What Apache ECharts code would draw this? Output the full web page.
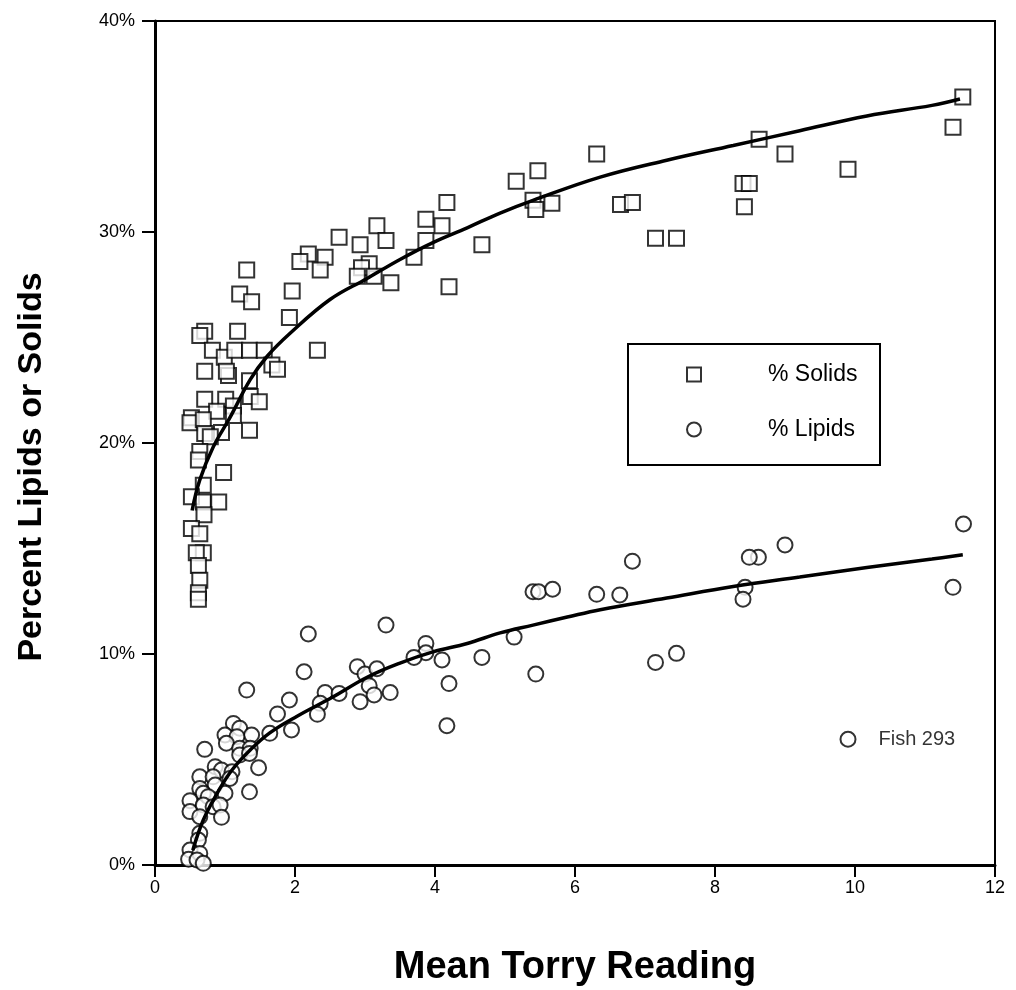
<!DOCTYPE html>
<html>
<head>
<meta charset="utf-8">
<title>Lipids and Solids vs Mean Torry Reading</title>
<script src="https://cdn.jsdelivr.net/npm/echarts@6/dist/echarts.min.js"></script>
<style>
  html, body { margin: 0; padding: 0; background: #fff; }
  #chart { width: 1016px; height: 990px; }
</style>
</head>
<body>
<div id="chart"></div>
<script>
// Mean Torry reading vs % solids, per fish sample
const solidsPoints = [
  [11.54, 36.4], [11.40, 34.96], [8.63, 34.4], [9.0, 33.7], [9.9, 32.97], [8.40, 32.3], [8.49, 32.3],
  [8.42, 31.2], [6.31, 33.7], [6.65, 31.3], [6.82, 31.4], [7.15, 29.7], [7.45, 29.7],
  [4.17, 31.4], [5.40, 31.5], [5.44, 31.07], [5.67, 31.36], [5.16, 32.4], [5.47, 32.9],
  [3.87, 30.6], [4.10, 30.3], [3.17, 30.3], [2.63, 29.75], [3.30, 29.6], [3.87, 29.6], [2.93, 29.4],
  [4.67, 29.4], [2.19, 28.96], [2.43, 28.8], [2.07, 28.6], [2.36, 28.2], [3.06, 28.5], [2.95, 28.3],
  [2.89, 27.9], [3.13, 27.9], [3.70, 28.8], [3.37, 27.6], [4.2, 27.4], [2.32, 24.4],
  [1.31, 28.2], [1.21, 27.06], [1.38, 26.7], [1.96, 27.2], [1.92, 25.95], [0.71, 25.3], [0.64, 25.1],
  [1.18, 25.3], [0.82, 24.4], [0.99, 24.06], [1.14, 24.4], [1.35, 24.4], [1.56, 24.4], [1.67, 23.7],
  [1.75, 23.5], [0.71, 23.4], [1.05, 23.2], [1.02, 23.4], [1.35, 22.95], [0.71, 22.07], [1.01, 22.07],
  [1.12, 21.75], [1.36, 22.2], [1.49, 21.96], [0.88, 21.5], [0.52, 21.2], [0.50, 20.96], [0.69, 21.1],
  [1.12, 21.3], [0.95, 20.5], [0.71, 20.45], [0.79, 20.3], [1.35, 20.6], [0.64, 19.6], [0.62, 19.2],
  [0.98, 18.6], [0.69, 18.0], [0.52, 17.45], [0.69, 17.2], [0.91, 17.2], [0.70, 16.6], [0.52, 15.95],
  [0.64, 15.7], [0.69, 14.8], [0.59, 14.8], [0.62, 14.2], [0.64, 13.5], [0.62, 12.9], [0.62, 12.6]
];

// Mean Torry reading vs % lipids, per fish sample
const lipidsPoints = [
  [11.55, 16.16], [11.40, 13.16], [9.0, 15.17], [8.62, 14.58], [8.49, 14.58], [8.43, 13.16], [8.40, 12.6],
  [6.82, 14.4], [6.64, 12.8], [6.31, 12.83], [7.45, 10.03], [7.15, 9.6], [9.9, 5.96],
  [5.40, 12.95], [5.48, 12.95], [5.68, 13.07], [5.44, 9.05], [5.13, 10.8], [4.67, 9.84], [3.30, 11.37],
  [2.19, 10.95], [2.13, 9.16], [3.87, 10.5], [3.87, 10.06], [3.70, 9.84], [4.10, 9.72], [4.2, 8.6],
  [4.17, 6.6], [2.89, 9.4], [3.0, 9.05], [3.17, 9.3], [3.06, 8.5], [3.13, 8.06], [3.36, 8.17],
  [2.93, 7.74], [2.43, 8.17], [2.63, 8.13], [2.36, 7.66], [2.32, 7.14],
  [1.31, 8.29], [1.92, 7.82], [1.75, 7.16], [1.95, 6.4], [1.12, 6.71], [1.21, 6.48], [1.64, 6.24],
  [1.0, 6.16], [1.38, 6.16], [1.17, 6.08], [1.02, 5.77], [0.71, 5.48], [1.21, 5.53], [1.36, 5.53],
  [1.21, 5.21], [1.35, 5.29], [1.48, 4.61], [0.86, 4.66], [0.95, 4.5], [1.10, 4.42], [0.64, 4.18],
  [0.83, 4.18], [1.07, 4.1], [0.86, 3.79], [1.0, 3.4], [1.35, 3.47], [0.64, 3.63], [0.69, 3.4],
  [0.5, 3.05], [0.5, 2.53], [0.76, 3.24], [0.69, 2.84], [0.83, 2.76], [0.93, 2.84], [0.95, 2.26],
  [0.64, 2.29], [0.64, 1.5], [0.62, 1.18], [0.5, 0.71], [0.48, 0.27], [0.64, 0.55], [0.6, 0.24],
  [0.69, 0.08]
];

// Fitted trend curves
const solidsFit = [
  [0.53, 16.8], [0.64, 18.25], [0.83, 19.8], [1.07, 21.2], [1.36, 23.0], [1.6, 24.1], [1.93, 25.2],
  [2.5, 26.8], [3.03, 27.8], [3.5, 28.7], [3.97, 29.5], [4.46, 30.2], [4.93, 30.9], [5.4, 31.5],
  [6.36, 32.6], [7.31, 33.4], [8.26, 34.1], [9.21, 34.8], [10.17, 35.5], [11.1, 36.0], [11.5, 36.3]
];
const lipidsFit = [
  [0.54, 0.7], [0.69, 2.13], [0.89, 3.41], [1.10, 4.5], [1.36, 5.45], [1.64, 6.26], [2.03, 7.05],
  [2.54, 7.96], [3.03, 8.9], [3.5, 9.57], [3.97, 10.1], [4.46, 10.5], [4.93, 11.0], [5.4, 11.37],
  [5.89, 11.75], [6.36, 12.1], [7.31, 12.65], [8.26, 13.2], [9.21, 13.65], [10.17, 14.1],
  [11.1, 14.5], [11.54, 14.7]
];

const seriesNames = ['% Solids', '% Lipids'];
const xTitle = 'Mean Torry Reading';
const yTitle = 'Percent Lipids or Solids';
const xTicks = { min: 0, max: 12, interval: 2 };
const yTicks = { min: 0, max: 40, interval: 10 };
const noteLabel = 'Fish 293';
const noteIndex = 12; // position of Fish 293 in lipidsPoints

const FONT = '"Liberation Sans", Arial, sans-serif';

const chart = echarts.init(document.getElementById('chart'), null, { renderer: 'canvas' });

const markerStyle = { color: '#fff', borderColor: '#000', borderWidth: 2 };

const lipidsData = lipidsPoints.map((p, i) => i === noteIndex
  ? {
      value: p,
      label: {
        show: true, position: 'right', distance: 22,
        formatter: noteLabel, color: '#000', fontFamily: FONT, fontSize: 20
      }
    }
  : p);

chart.setOption({
  animation: false,
  backgroundColor: '#fff',
  grid: {
    left: 155, right: 21, top: 21, bottom: 125,
    show: true, borderColor: '#000', borderWidth: 2, backgroundColor: 'transparent'
  },
  legend: {
    data: seriesNames,
    orient: 'vertical',
    left: 686, top: 363, padding: 0,
    itemWidth: 14, itemHeight: 14, itemGap: 32,
    textStyle: { color: '#000', fontFamily: FONT, fontSize: 23, padding: [0, 0, 0, 62] }
  },
  graphic: [
    {
      type: 'rect', left: 627, top: 343, z: 0,
      shape: { width: 252, height: 121 },
      style: { fill: '#fff', stroke: '#000', lineWidth: 2 }
    },
    {
      type: 'text', x: 575, y: 968, z: 10,
      style: {
        text: xTitle, fill: '#000', font: 'bold 38px ' + FONT,
        align: 'center', verticalAlign: 'middle'
      }
    },
    {
      type: 'text', x: 32, y: 467, rotation: Math.PI / 2, z: 10,
      style: {
        text: yTitle, fill: '#000', font: 'bold 34px ' + FONT,
        align: 'center', verticalAlign: 'middle'
      }
    }
  ],
  xAxis: {
    type: 'value', min: xTicks.min, max: xTicks.max, interval: xTicks.interval,
    axisLine: { show: true, lineStyle: { color: '#000', width: 3 } },
    axisTick: { show: true, inside: false, length: 12, lineStyle: { color: '#000', width: 2 } },
    axisLabel: { color: '#000', fontFamily: FONT, fontSize: 18, margin: 14 },
    splitLine: { show: false }
  },
  yAxis: {
    type: 'value', min: yTicks.min, max: yTicks.max, interval: yTicks.interval,
    axisLine: { show: true, lineStyle: { color: '#000', width: 3 } },
    axisTick: { show: true, inside: false, length: 13, lineStyle: { color: '#000', width: 2 } },
    axisLabel: { color: '#000', fontFamily: FONT, fontSize: 18, margin: 20, formatter: '{value}%' },
    splitLine: { show: false }
  },
  series: [
    {
      name: seriesNames[0], type: 'scatter', symbol: 'rect', symbolSize: 15,
      itemStyle: markerStyle, data: solidsPoints, z: 3
    },
    {
      name: seriesNames[1], type: 'scatter', symbol: 'circle', symbolSize: 15,
      itemStyle: markerStyle, data: lipidsData, z: 3
    },
    {
      type: 'line', data: solidsFit, smooth: 0.4, showSymbol: false, symbol: 'none',
      lineStyle: { color: '#000', width: 3.5 }, z: 5, silent: true
    },
    {
      type: 'line', data: lipidsFit, smooth: 0.4, showSymbol: false, symbol: 'none',
      lineStyle: { color: '#000', width: 3.5 }, z: 5, silent: true
    }
  ]
});
</script>
</body>
</html>
